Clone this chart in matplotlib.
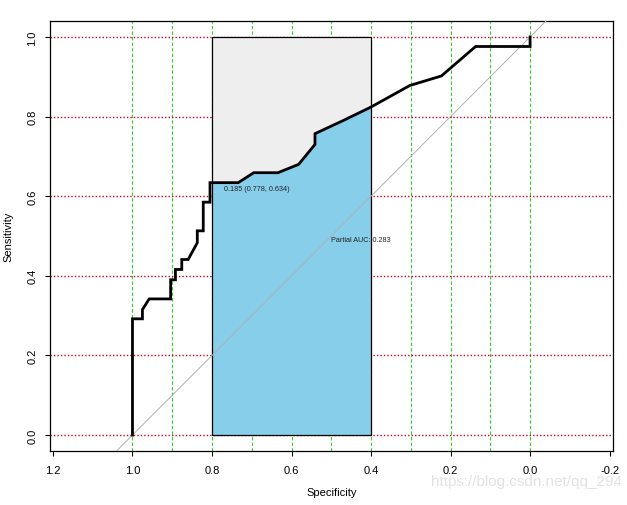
import matplotlib
matplotlib.use("Agg")
import matplotlib.pyplot as plt
from matplotlib.patches import Rectangle
import numpy as np

plt.rcParams["font.family"] = ["Liberation Sans", "DejaVu Sans"]

# ── ROC curve (specificity, sensitivity) ─────────────────────────────────────
spec = [1.0, 1.0, 0.975, 0.975, 0.958, 0.904, 0.904, 0.892, 0.892, 0.876,
        0.876, 0.860, 0.837, 0.837, 0.822, 0.822, 0.805, 0.805, 0.734, 0.695,
        0.634, 0.582, 0.541, 0.541, 0.470, 0.400, 0.3025, 0.223, 0.137, 0.0, 0.0]
sens = [0.0, 0.292, 0.292, 0.315, 0.342, 0.342, 0.390, 0.390, 0.416, 0.416,
        0.441, 0.441, 0.483, 0.513, 0.513, 0.585, 0.585, 0.634, 0.634, 0.659,
        0.659, 0.680, 0.730, 0.757, 0.790, 0.824, 0.878, 0.902, 0.976, 0.976, 1.0]

partial_range = (0.8, 0.4)   # specificity window of the partial AUC
partial_auc = 0.283
best_thres = 0.185
best_point = (0.778, 0.634)

xticks = [1.2, 1.0, 0.8, 0.6, 0.4, 0.2, 0.0, -0.2]
yticks = [0.0, 0.2, 0.4, 0.6, 0.8, 1.0]
vgrid = [1.0, 0.9, 0.8, 0.7, 0.6, 0.5, 0.4, 0.3, 0.2, 0.1, 0.0]
hgrid = [0.0, 0.2, 0.4, 0.6, 0.8, 1.0]

fig = plt.figure(figsize=(6.27, 5.06), dpi=100)
ax = fig.add_axes([0.0797, 0.1067, 0.8973, 0.8498])

ax.set_xlim(1.2075, -0.2075)
ax.set_ylim(-0.04, 1.04)

# grid
for v in vgrid:
    ax.axvline(v, color="#33cc33", lw=0.8, ls=(0, (3, 2)), zorder=0)
for h in hgrid:
    ax.axhline(h, color="#cc0022", lw=1.0, ls=(0, (1, 1.5)), zorder=0)

# partial AUC box + shaded area
lo, hi = min(partial_range), max(partial_range)
ax.add_patch(Rectangle((lo, 0), hi - lo, 1, fc="#eeeeee", ec="none", zorder=1))
fill = ax.fill_between(spec, sens, 0, color="#87ceeb", lw=0, zorder=2)
clip = Rectangle((lo, 0), hi - lo, 1, transform=ax.transData)
fill.set_clip_path(clip)
ax.add_patch(Rectangle((lo, 0), hi - lo, 1, fc="none", ec="black", lw=0.9, zorder=3))

# chance line
ax.plot([1.5, -0.5], [-0.5, 1.5], color="#b0b0b0", lw=0.7, zorder=3)

# ROC curve
ax.plot(spec, sens, color="black", lw=2.0, zorder=4, solid_joinstyle="miter")

ax.annotate(f"{best_thres:.3f} ({best_point[0]:.3f}, {best_point[1]:.3f})",
            xy=best_point, xytext=(2, -1.5), textcoords="offset points",
            ha="left", va="top", fontsize=5.2, color="#222222", zorder=5)
ax.text(0.5, 0.5, f"Partial AUC: {partial_auc:.3f}", ha="left", va="top",
        fontsize=5.2, color="#222222", zorder=5)

ax.set_xticks(xticks)
ax.set_xticklabels([f"{t:.1f}" for t in xticks])
ax.set_yticks(yticks)
ax.set_yticklabels([f"{t:.1f}" for t in yticks], rotation=90, va="center")
ax.tick_params(length=3.6, width=0.8, labelsize=8)
ax.tick_params(axis="x", pad=6.5)
ax.tick_params(axis="y", pad=5.5)
for s in ax.spines.values():
    s.set_linewidth(0.9)

ax.set_xlabel("Specificity", fontsize=8)
ax.set_ylabel("Sensitivity", fontsize=8)
ax.xaxis.set_label_coords(0.5, -0.083)
ax.yaxis.set_label_coords(-0.064, 0.5)

# blog watermark, sits under the right-hand tick labels as in the source image
fig.text(0.688, 0.048, "https://blog.csdn.net/qq_294", color="#e2e2e2",
         fontsize=11, ha="left", va="center", zorder=0)

fig.savefig("out.png", dpi=100)
